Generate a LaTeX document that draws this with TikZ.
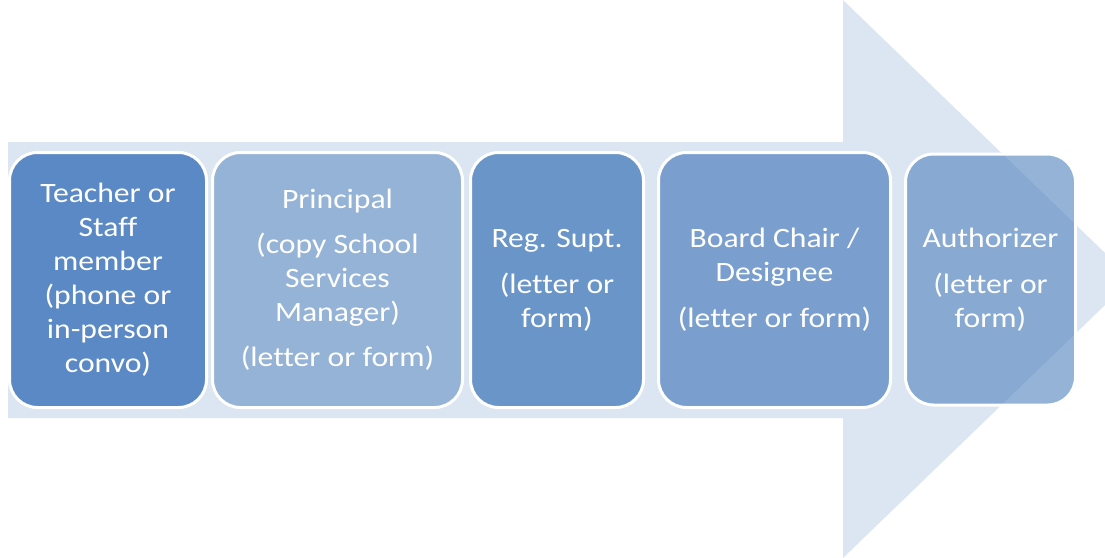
\documentclass[tikz,border=0pt]{standalone}
\usepackage{fontspec}
\setmainfont{Carlito}[FakeStretch=1.13, Ligatures={NoCommon}]
\definecolor{arrowfill}{HTML}{DCE6F2}
\definecolor{accent}{HTML}{4F81BD}
\definecolor{boxA}{HTML}{5B89C5}
\definecolor{boxB}{HTML}{95B3D7}
\definecolor{boxC}{HTML}{6A95C8}
\definecolor{boxD}{HTML}{7A9FCF}
\tikzset{
  stagebox/.style={draw=white, line width=3pt, rounded corners=28pt,
    minimum height=255pt, align=center, text=white, inner sep=0pt,
    font=\fontsize{28}{34}\selectfont},
}
\begin{document}
\begin{tikzpicture}[x=1pt,y=-1pt]
  \useasboundingbox (0,0) rectangle (1105,557);
  \clip (0,0) rectangle (1105,557);
  % background block arrow
  \fill[arrowfill] (8,142) -- (843,142) -- (843,0) -- (1132,279)
    -- (843,558) -- (843,418) -- (8,418) -- cycle;
  % process stages
  \node[stagebox, fill=boxA, minimum width=197pt] (teacher) at (108,280)
    {Teacher or\\Staff\\member\\(phone or\\in-person\\convo)};
  \node[stagebox, fill=boxB, minimum width=250pt] (principal) at (337.5,280)
    {Principal\\[11pt](copy School\\Services\\Manager)\\[11pt](letter or form)};
  \node[stagebox, fill=boxC, minimum width=173pt] (supt) at (557,280)
    {Reg. Supt.\\[12pt](letter or\\form)};
  \node[stagebox, fill=boxD, minimum width=232pt] (board) at (774.5,280)
    {Board Chair /\\Designee\\[12pt](letter or form)};
  \node[stagebox, fill=accent, fill opacity=0.6, text opacity=1,
    minimum width=170pt, minimum height=251pt] (auth) at (990.5,279.5)
    {Authorizer\\[12pt](letter or\\form)};
\end{tikzpicture}
\end{document}
